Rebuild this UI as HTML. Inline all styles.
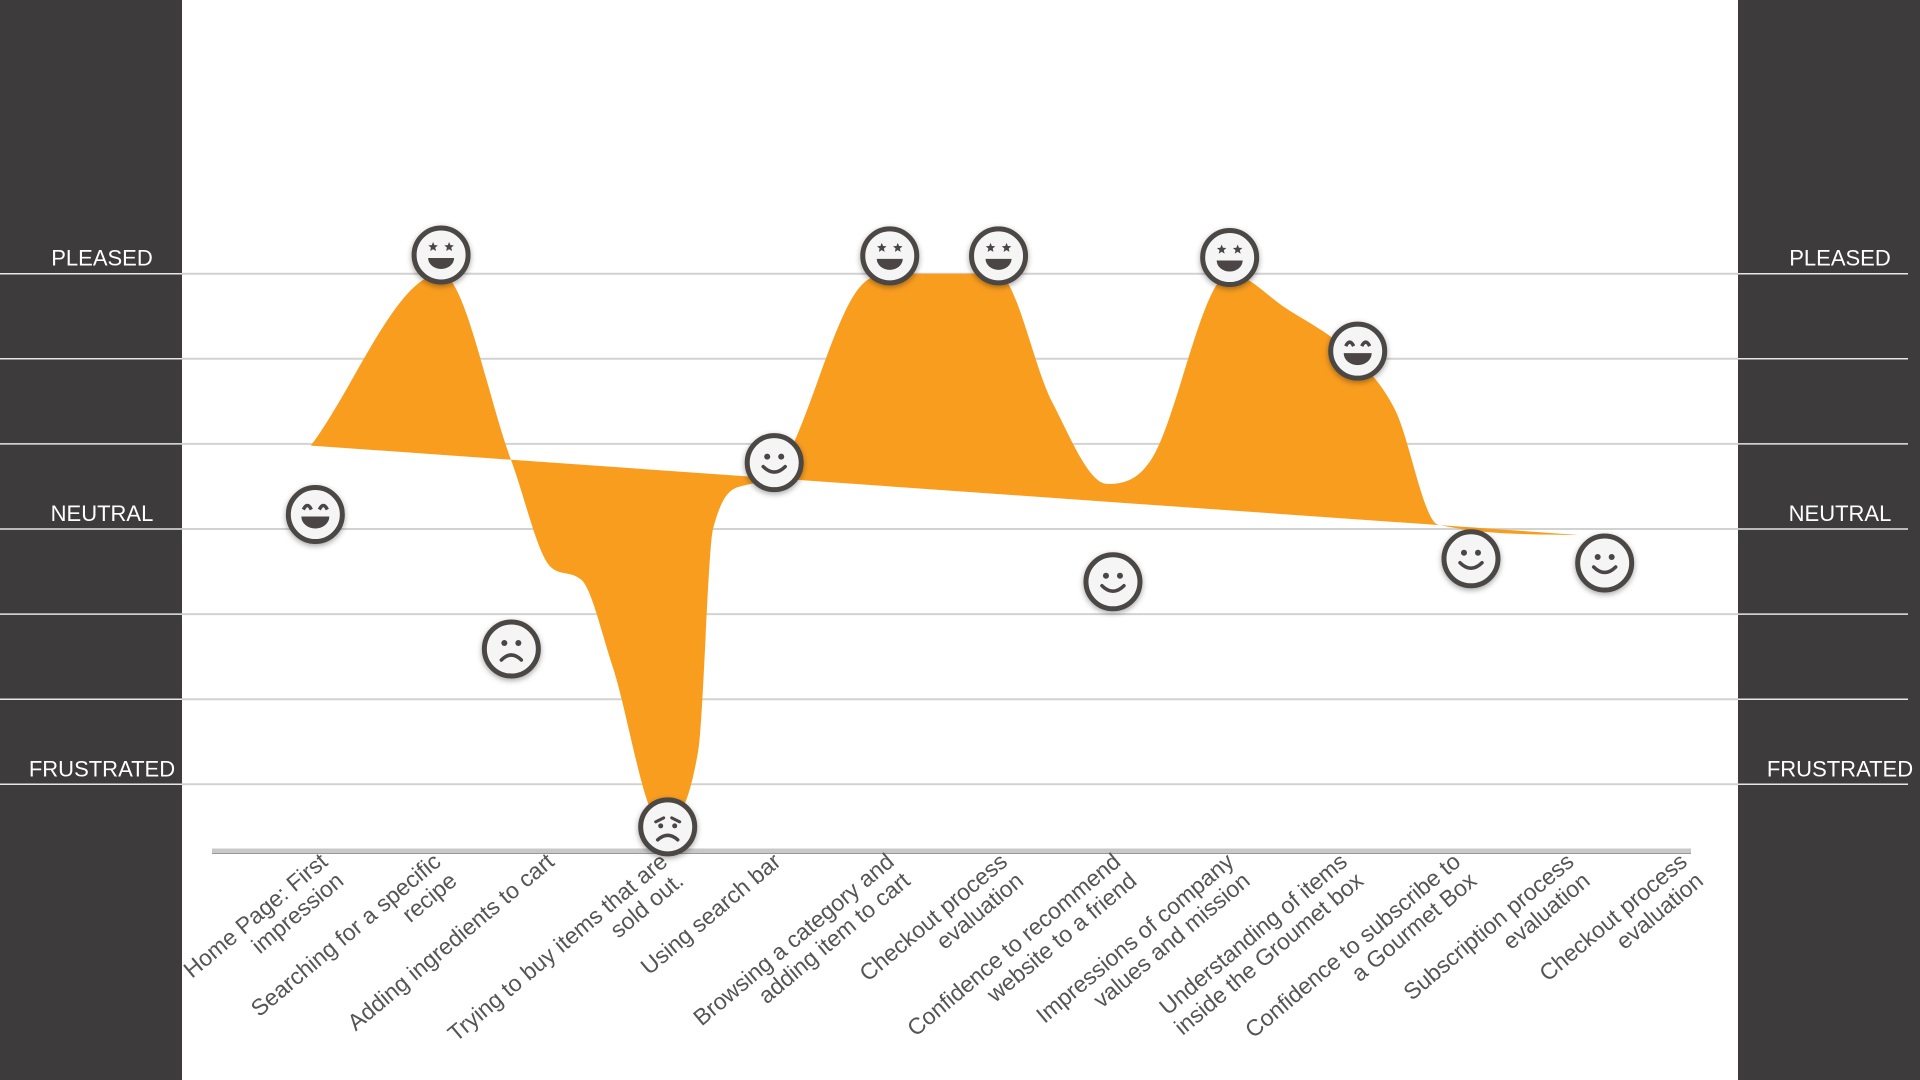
<!DOCTYPE html>
<html><head><meta charset="utf-8"><style>
html,body{margin:0;padding:0;background:#fff}
svg{display:block}
text{font-family:"Liberation Sans",sans-serif}
</style></head><body>
<svg id="chart" width="1920" height="1080" viewBox="0 0 1920 1080">
<defs>
<filter id="sh" x="-50%" y="-50%" width="200%" height="200%"><feDropShadow dx="0" dy="2" stdDeviation="3" flood-color="#000" flood-opacity="0.35"/></filter>
</defs>
<rect x="0" y="0" width="182" height="1080" fill="#3d3b3b"/>
<rect x="1738" y="0" width="182" height="1080" fill="#3d3b3b"/>
<g id="grid"></g>
<g id="area"></g>
<line x1="212" y1="851" x2="1691" y2="851" stroke="#c8c8c8" stroke-width="5"/>
<line x1="212" y1="853.5" x2="1691" y2="853.5" stroke="#999" stroke-width="1"/>
<g id="labels"></g>
<g id="emojis"></g>
</svg>
<script>
const categories = [
 ["Home Page: First","impression"],
 ["Searching for a specific","recipe"],
 ["Adding ingredients to cart",""],
 ["Trying to buy items that are","sold out."],
 ["Using search bar",""],
 ["Browsing a category and","adding item to cart"],
 ["Checkout process","evaluation"],
 ["Confidence to recommend","website to a friend"],
 ["Impressions of company","values and mission"],
 ["Understanding of  items","inside the Groumet box"],
 ["Confidence to subscribe to","a Gourmet Box"],
 ["Subscription process","evaluation"],
 ["Checkout process","evaluation"]
];
// curve control points: position in category units, emotion value
const curveX = [-0.09, 1.06, 1.68, 2.03, 2.30, 2.57, 3.00, 3.33, 3.46, 3.76, 4.0, 4.73, 5.02, 5.97, 6.45, 6.94, 7.32, 8.02, 8.51, 9.10, 9.48, 9.86, 11.10];
const curveValues = [0.98, 3.0, 0.8, -0.45, -0.6, -1.6, -3.45, -2.6, 0.0, 0.52, 0.63, 2.8, 3.0, 3.0, 1.5, 0.53, 0.8, 3.0, 2.6, 2.05, 1.4, 0.05, -0.07];
const baselineX = [-0.09, 11.10];
const baselineValues = [0.98, -0.07];
const emojiX = [-0.05, 1.06, 1.68, 3.06, 4.0, 5.02, 5.98, 6.99, 8.02, 9.15, 10.15, 11.33];
const emojiValues = [0.17, 3.22, -1.41, -3.5, 0.78, 3.21, 3.21, -0.62, 3.19, 2.09, -0.35, -0.4];
const emojiTypes = ["grin","star","sad","distress","smile","star","star","smile","star","grin","smile","smile"];
const levelTicks = [3, 2, 1, 0, -1, -2, -3];
const levelNames = {"3":"PLEASED","0":"NEUTRAL","-3":"FRUSTRATED"};

const NS = "http://www.w3.org/2000/svg";
const xs = i => 321 + i * 113.3;
const ys = v => 529 - v * 85.1;
function mk(tag, attrs, parent){const e=document.createElementNS(NS,tag);for(const k in attrs)e.setAttribute(k,attrs[k]);parent.appendChild(e);return e;}

const grid = document.getElementById('grid');
levelTicks.forEach(v=>{
  const y = ys(v);
  const l = mk('line',{x1:182,x2:1738,y1:y,y2:y,stroke:'#d2d2d2','stroke-width':2},grid);
  
  
  const a = mk('line',{x1:0,x2:182,y1:y,y2:y,stroke:'#e6e6e6','stroke-width':1.5},grid);
  
  
  const b = mk('line',{x1:1738,x2:1908,y1:y,y2:y,stroke:'#e6e6e6','stroke-width':1.5},grid);
  
  
  if(levelNames[String(v)]){
    const n = levelNames[String(v)];
    const t1 = mk('text',{x:102,y:y-8,'text-anchor':'middle',fill:'#fff','font-size':22},grid);
    t1.textContent = n;
    
    
    const t2 = mk('text',{x:1840,y:y-8,'text-anchor':'middle',fill:'#fff','font-size':22},grid);
    t2.textContent = n;
    
    
  }
});

function monotonePath(pts){
  const n=pts.length, d=[], m=[];
  for(let i=0;i<n-1;i++) d.push((pts[i+1][1]-pts[i][1])/(pts[i+1][0]-pts[i][0]));
  m[0]=d[0]; m[n-1]=d[n-2];
  for(let i=1;i<n-1;i++){ m[i]=(d[i-1]*d[i]<=0)?0:(d[i-1]+d[i])/2; }
  for(let i=0;i<n-1;i++){ if(d[i]===0){m[i]=0;m[i+1]=0;continue;}
    const a=m[i]/d[i], b=m[i+1]/d[i], s=a*a+b*b; if(s>9){const t=3/Math.sqrt(s);m[i]=t*a*d[i];m[i+1]=t*b*d[i];}}
  let p=`M${pts[0][0]},${pts[0][1]}`;
  for(let i=0;i<n-1;i++){const h=(pts[i+1][0]-pts[i][0])/3;
    p+=` C${pts[i][0]+h},${pts[i][1]+m[i]*h} ${pts[i+1][0]-h},${pts[i+1][1]-m[i+1]*h} ${pts[i+1][0]},${pts[i+1][1]}`;}
  return p;
}
const pts = curveValues.map((v,i)=>[xs(curveX[i]),ys(v)]);
const dPath = monotonePath(pts) + ` L${xs(baselineX[1])},${ys(baselineValues[1])} L${xs(baselineX[0])},${ys(baselineValues[0])} Z`;
const area = mk('path',{d:dPath,fill:'#f99d1f','fill-rule':'nonzero'},document.getElementById('area'));



const lg = document.getElementById('labels');
categories.forEach((c,i)=>{
  const x = xs(i)+8, y = 864;
  const t = mk('text',{transform:`translate(${x},${y}) rotate(-40)`,'text-anchor':'end',fill:'#555','font-size':23},lg);
  
  
  const s1 = mk('tspan',{x:0,y:0},t); s1.textContent=c[0];
  if(c[1]){const s2=mk('tspan',{x:0,dy:25},t); s2.textContent=c[1];}
});

const eg = document.getElementById('emojis');
const C = '#4b4645';
function star(g,cx,cy,r){let p='';for(let k=0;k<10;k++){const a=-Math.PI/2+k*Math.PI/5,rr=k%2?r*0.45:r;p+=(k?'L':'M')+(cx+rr*Math.cos(a))+','+(cy+rr*Math.sin(a));}mk('path',{d:p+'Z',fill:C},g);}
emojiValues.forEach((v,i)=>{
  const g = mk('g',{transform:`translate(${xs(emojiX[i])},${ys(v)})`},eg);
  
  
  mk('circle',{r:27,fill:'#f5f5f5',stroke:C,'stroke-width':5,filter:'url(#sh)'},g);
  const tp = emojiTypes[i];
  if(tp==='star'){
    star(g,-8,-8,5); star(g,8,-8,5);
    mk('path',{d:'M-13,3 L13,3 A13,11 0 0 1 -13,3 Z',fill:C},g);
  } else if(tp==='grin'){
    mk('path',{d:'M-12,-5 Q-8,-13 -4,-5',fill:'none',stroke:C,'stroke-width':3.5},g);
    mk('path',{d:'M4,-5 Q8,-13 12,-5',fill:'none',stroke:C,'stroke-width':3.5},g);
    mk('path',{d:'M-14,2 L14,2 A14,12 0 0 1 -14,2 Z',fill:C},g);
  } else if(tp==='smile'){
    mk('circle',{cx:-7,cy:-6,r:3,fill:C},g); mk('circle',{cx:7,cy:-6,r:3,fill:C},g);
    mk('path',{d:'M-11,4 Q0,15 11,4',fill:'none',stroke:C,'stroke-width':3.5,'stroke-linecap':'round'},g);
  } else if(tp==='sad'){
    mk('circle',{cx:-7,cy:-6,r:3,fill:C},g); mk('circle',{cx:7,cy:-6,r:3,fill:C},g);
    mk('path',{d:'M-10,11 Q0,1 10,11',fill:'none',stroke:C,'stroke-width':3.5,'stroke-linecap':'round'},g);
  } else {
    mk('path',{d:'M-12,-5 L-4,-9 M12,-5 L4,-9',fill:'none',stroke:C,'stroke-width':3,'stroke-linecap':'round'},g);
    mk('circle',{cx:-7,cy:-1,r:2.5,fill:C},g); mk('circle',{cx:7,cy:-1,r:2.5,fill:C},g);
    mk('path',{d:'M-10,13 Q0,4 10,13',fill:'none',stroke:C,'stroke-width':3.5,'stroke-linecap':'round'},g);
  }
});
</script>
</body></html>
